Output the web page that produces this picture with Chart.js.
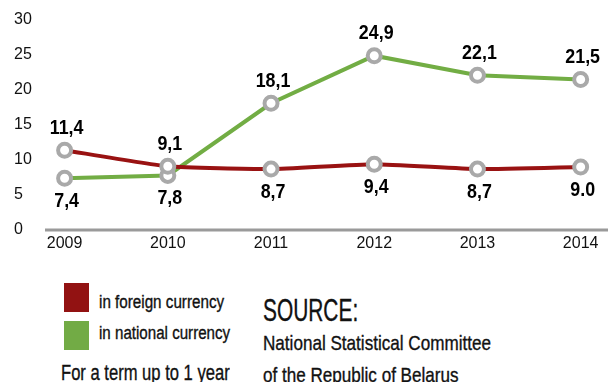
<!DOCTYPE html>
<html>
<head>
<meta charset="utf-8">
<script src="https://cdn.jsdelivr.net/npm/chart.js@4/dist/chart.umd.min.js"></script>
<style>
  html, body { margin: 0; padding: 0; background: #fff; }
  body { width: 608px; height: 382px; position: relative; overflow: hidden;
         font-family: "Liberation Sans", Arial, sans-serif; color: #111; }
  #wrap { position: absolute; left: 0; top: 0; width: 618px; height: 250px; }
  .box { position: absolute; width: 25px; height: 29px; }
  .txt { position: absolute; white-space: nowrap; line-height: 1; transform-origin: 0 0;
         -webkit-text-stroke: 0.35px #111; }
</style>
</head>
<body>
<div id="wrap"><canvas id="chart"></canvas></div>

<div class="box" style="left:64px; top:283px; background:#921212"></div>
<div class="box" style="left:64px; top:321px; background:#72ab45"></div>
<div class="txt" data-w="125" style="left:99px; top:293px; font-size:18px">in foreign currency</div>
<div class="txt" data-w="131" style="left:99px; top:324px; font-size:18px">in national currency</div>
<div class="txt" data-w="169" style="left:61px; top:362px; font-size:22px">For a term up to 1 year</div>

<div class="txt" data-w="95" style="left:263px; top:295px; font-size:31px">SOURCE:</div>
<div class="txt" data-w="228" style="left:263px; top:332px; font-size:21px">National Statistical Committee</div>
<div class="txt" data-w="195" style="left:263px; top:364px; font-size:21px">of the Republic of Belarus</div>

<script>
const years = ['2009', '2010', '2011', '2012', '2013', '2014'];
const yTicks = [0, 5, 10, 15, 20, 25, 30];

// in foreign currency
const foreignValues = [11.4, 9.1, 8.7, 9.4, 8.7, 9.0];
const foreignLabels = ['11,4', '9,1', '8,7', '9,4', '8,7', '9.0'];

// in national currency
const nationalValues = [7.4, 7.8, 18.1, 24.9, 22.1, 21.5];
const nationalLabels = ['7,4', '7,8', '18,1', '24,9', '22,1', '21,5'];

const FONT = '"Liberation Sans", Arial, sans-serif';

// squeeze the html captions to a condensed look
document.querySelectorAll('.txt').forEach(el => {
  const k = Number(el.dataset.w) / el.offsetWidth;
  el.style.transform = 'scaleX(' + k.toFixed(3) + ')';
});

// grey base line, running from the plot's left edge out to the page edge
const baseLine = {
  id: 'baseLine',
  beforeDatasetsDraw(chart) {
    const ctx = chart.ctx;
    const y = chart.scales.y.getPixelForValue(0);
    ctx.save();
    ctx.strokeStyle = '#9a9a9a';
    ctx.lineWidth = 3;
    ctx.beginPath();
    ctx.moveTo(chart.chartArea.left, y);
    ctx.lineTo(chart.width, y);
    ctx.stroke();
    ctx.restore();
  }
};

// value labels: above the point when it is the higher of the two lines, below otherwise
const valueLabels = {
  id: 'valueLabels',
  afterDatasetsDraw(chart) {
    const ctx = chart.ctx;
    const sets = chart.data.datasets;
    ctx.save();
    ctx.font = 'bold 21px ' + FONT;
    ctx.fillStyle = '#000';
    ctx.textAlign = 'center';
    ctx.textBaseline = 'middle';
    sets.forEach((ds, di) => {
      const other = sets[1 - di].data;
      chart.getDatasetMeta(di).data.forEach((pt, i) => {
        const up = ds.data[i].y > other[i].y;
        ctx.save();
        ctx.translate(pt.x + 2, pt.y + (up ? -22 : 23));
        ctx.scale(0.85, 1);
        ctx.fillText(ds.texts[i], 0, 0);
        ctx.restore();
      });
    });
    ctx.restore();
  }
};

const toPoints = vals => vals.map((v, i) => ({ x: i, y: v }));

new Chart(document.getElementById('chart'), {
  type: 'line',
  data: {
    datasets: [
      {
        label: 'in foreign currency',
        data: toPoints(foreignValues),
        texts: foreignLabels,
        borderColor: '#991212',
        borderWidth: 4,
        tension: 0.15,
        pointBackgroundColor: '#fff',
        pointBorderColor: '#a9a9a9'
      },
      {
        label: 'in national currency',
        data: toPoints(nationalValues),
        texts: nationalLabels,
        borderColor: '#72ad44',
        borderWidth: 4,
        tension: 0,
        pointBackgroundColor: '#fff',
        pointBorderColor: '#a9a9a9'
      }
    ]
  },
  options: {
    responsive: true,
    maintainAspectRatio: false,
    animation: false,
    layout: { padding: { left: 14, top: 20, right: 0, bottom: 0 } },
    elements: {
      point: { radius: 6.5, borderWidth: 3 }
    },
    plugins: {
      legend: { display: false },
      tooltip: { enabled: false }
    },
    scales: {
      x: {
        type: 'linear',
        min: -0.19,
        max: 5.26,
        grid: { display: false, drawTicks: false },
        border: { display: false },
        afterBuildTicks: s => { s.ticks = years.map((_, i) => ({ value: i })); },
        afterFit: s => { s.height = 20; },
        ticks: {
          autoSkip: false,
          maxRotation: 0,
          padding: 4,
          color: '#111',
          font: { family: FONT, size: 16 },
          callback: v => years[v]
        }
      },
      y: {
        min: 0,
        max: 30,
        grid: { display: false, drawTicks: false },
        border: { display: false },
        afterBuildTicks: s => { s.ticks = yTicks.map(v => ({ value: v })); },
        afterFit: s => { s.width = 31; },
        ticks: {
          crossAlign: 'far',
          color: '#111',
          font: { family: FONT, size: 16 }
        }
      }
    }
  },
  plugins: [baseLine, valueLabels]
});
</script>
</body>
</html>
